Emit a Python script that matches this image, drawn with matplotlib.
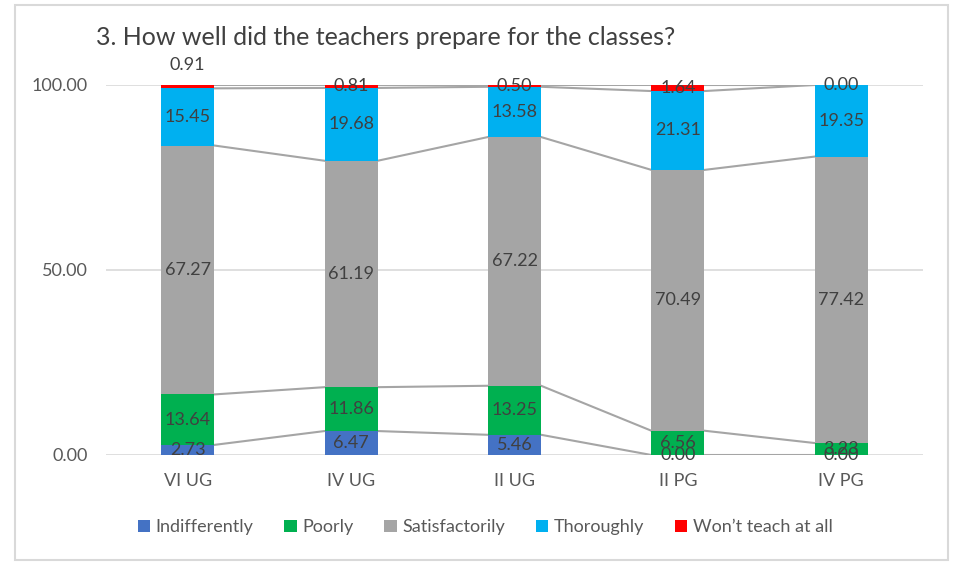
import numpy as np
import matplotlib.pyplot as plt
from matplotlib.patches import Rectangle

plt.rcParams["font.family"] = ["Lato", "DejaVu Sans"]

categories = ["VI UG", "IV UG", "II UG", "II PG", "IV PG"]
series_names = ["Indifferently", "Poorly", "Satisfactorily", "Thoroughly", "Won\u2019t teach at all"]
indifferently = [2.73, 6.47, 5.46, 0.00, 0.00]
poorly = [13.64, 11.86, 13.25, 6.56, 3.23]
satisfactorily = [67.27, 61.19, 67.22, 70.49, 77.42]
thoroughly = [15.45, 19.68, 13.58, 21.31, 19.35]
wont_teach = [0.91, 0.81, 0.50, 1.64, 0.00]
colors = ["#4472C4", "#00B050", "#A5A5A5", "#00B0F0", "#FF0000"]

data = [indifferently, poorly, satisfactorily, thoroughly, wont_teach]
txt = "#404040"

fig = plt.figure(figsize=(9.55, 5.62), dpi=100)
ax = fig.add_axes([0.111, 0.1904, 0.8555, 0.6584])

x = np.arange(len(categories))
w = 0.325
bottom = np.zeros(len(categories))
tops = []
for name, vals, c in zip(series_names, data, colors):
    vals = np.array(vals)
    ax.bar(x, vals, w, bottom=bottom, color=c, label=name, zorder=3)
    for i in range(len(x)):
        y = bottom[i] + vals[i] / 2
        if name.startswith("Won") and i == 0:
            y = 105.5  # excel pushed this one above the bar
        ax.text(x[i], y, f"{vals[i]:.2f}", ha="center", va="center",
                fontsize=13, color=txt, zorder=5, clip_on=False)
    bottom = bottom + vals
    tops.append(bottom.copy())

# series lines between bars
for t in tops:
    for i in range(len(x) - 1):
        ax.plot([x[i] + w / 2, x[i + 1] - w / 2], [t[i], t[i + 1]],
                color="#A5A5A5", lw=1.5, zorder=2)

ax.set_xlim(-0.5, len(categories) - 0.5)
ax.set_ylim(0, 100)
ax.set_yticks([0, 50, 100])
ax.set_yticklabels(["0.00", "50.00", "100.00"])
ax.set_xticks(x)
ax.set_xticklabels(categories)
ax.tick_params(length=0, labelsize=13, labelcolor="#595959")
ax.tick_params(axis="x", pad=13)
ax.tick_params(axis="y", pad=13)
ax.yaxis.grid(True, color="#D9D9D9", lw=1.2, zorder=0)
for s in ax.spines.values():
    s.set_visible(False)

fig.text(0.101, 0.934, "3. How well did the teachers prepare for the classes?",
         fontsize=18, color=txt, ha="left", va="center")

fig.legend(loc="center", bbox_to_anchor=(0.508, 0.062), ncol=5, frameon=False,
           fontsize=13, handlelength=0.7, handleheight=0.7, handletextpad=0.3,
           columnspacing=1.7, labelcolor="#595959")

fig.patches.append(Rectangle((0.0157, 0.003), 0.977, 0.988, transform=fig.transFigure,
                             fill=False, edgecolor="#D9D9D9", lw=1.5))

fig.savefig("out.png", dpi=100)
